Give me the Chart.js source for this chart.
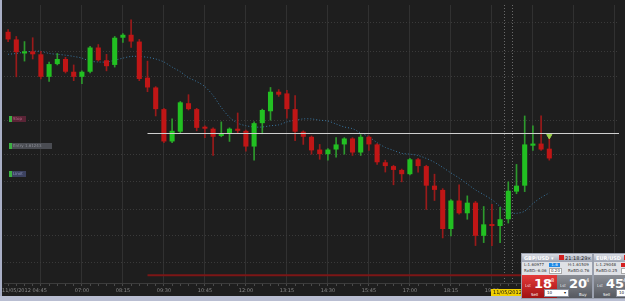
<!DOCTYPE html>
<html>
<head>
<meta charset="utf-8">
<title>GBP/USD 15m</title>
<script src="https://cdn.jsdelivr.net/npm/chart.js@4.4.1/dist/chart.umd.min.js"></script>
<style>
  html, body { margin: 0; padding: 0; width: 625px; height: 301px; overflow: hidden; background: #1e1e1e; font-family: "DejaVu Sans", sans-serif; }
  #wrap { position: absolute; left: -1px; top: 0; width: 625px; height: 296px; }
  #frameLeft { position: absolute; left: 0; top: 0; width: 2px; height: 301px; background: #a9afc6; }
  #frameBottom { position: absolute; left: 0; top: 296px; width: 625px; height: 5px; background: #b9bed2; }

  /* order tags on the left */
  .tag { position: absolute; left: 9px; height: 6px; display: flex; font-size: 4px; line-height: 6px; }
  .tag i { width: 3px; height: 6px; background: #3cb043; }
  .tag span { padding: 0 1px; overflow: hidden; white-space: nowrap; }

  /* crosshair time label */
  #timeTag { position: absolute; left: 491px; top: 289px; width: 42px; height: 7px; background: #f0cf00; color: #111; font-size: 5px; line-height: 7px; padding-left: 2px; white-space: nowrap; overflow: hidden; }

  /* dealing tickets */
  .ticket { position: absolute; top: 253px; height: 44px; background: #dfe1e6; border: 1px solid #9aa0ae; overflow: hidden; font-size: 4px; color: #333; }
  .ticket .title { height: 8px; background: linear-gradient(#d9dce4, #9ea4b3); color: #fff; font-weight: bold; font-size: 5px; line-height: 8px; padding-left: 2px; position: relative; white-space: nowrap; }
  .ticket .title b { position: absolute; top: 1px; width: 5px; height: 5px; background: #d42020; }
  .ticket .title em { position: absolute; font-style: normal; font-weight: normal; color: #222; }
  .ticket .row { height: 6px; line-height: 6px; position: relative; white-space: nowrap; }
  .ticket .row span { position: absolute; }
  .ticket .box { top: 1px; height: 4px; line-height: 4px; text-align: center; }
  .ticket .btn { position: absolute; top: 21px; height: 23px; color: #fff; }
  .ticket .btn .lst { position: absolute; left: 3px; top: 8px; font-size: 4px; opacity: .85; }
  .ticket .btn .big { position: absolute; left: 12px; top: 2px; font-size: 13px; font-weight: bold; line-height: 14px; }
  .ticket .btn .sup { position: absolute; left: 29px; top: 2px; font-size: 5px; }
  .ticket .btn .act { position: absolute; bottom: 1px; font-size: 4px; }
  .ticket .qty { position: absolute; top: 35px; height: 6px; background: #fff; border: 1px solid #8a8f9c; color: #111; font-size: 4px; line-height: 6px; padding-left: 2px; }
</style>
</head>
<body>
<div id="wrap"><canvas id="priceChart" width="625" height="296"></canvas></div>
<div id="frameLeft"></div>
<div id="frameBottom"></div>

<div class="tag" style="top:116px"><i></i><span style="background:#5a2436;color:#b86a8a;width:12px">Stop</span></div>
<div class="tag" style="top:143px"><i></i><span style="background:#4a4c52;color:#8c8f96;width:38px">Entry 1.61243</span></div>
<div class="tag" style="top:171px"><i></i><span style="background:#3c4260;color:#8e96bc;width:12px">Limit</span></div>

<div id="timeTag">11/05/2012 20:45</div>

<div class="ticket" style="left:521px;width:70px">
  <div class="title">GBP/USD &#9662;<b style="left:37px"></b><em style="left:43px">21:18:29</em><em style="left:65px">&#215;</em></div>
  <div class="row"><span style="left:2px">L:1.60977</span><span class="box" style="left:27px;width:11px;background:#1e88e5;color:#fff">1.6</span><span style="left:46px">H:1.61509</span></div>
  <div class="row"><span style="left:2px">RxBD:-6.06</span><span class="box" style="left:27px;width:11px;background:#fff;border:1px solid #aaa;top:0">0.20</span><span style="left:46px">RxBD:0.76</span></div>
  <div class="btn" style="left:0;width:35px;background:linear-gradient(#e43a3a,#a01212)"><span class="lst">Lst</span><span class="big">18</span><span class="sup">8</span><span class="act" style="left:9px">Sell</span></div>
  <div class="btn" style="left:35px;width:35px;background:linear-gradient(#8c8f96,#55585f)"><span class="lst">Lst</span><span class="big">20</span><span class="sup">4</span><span class="act" style="left:22px">Buy</span></div>
  <div class="qty" style="left:22px;width:21px">10<span style="position:absolute;right:2px">&#9662;</span></div>
</div>

<div class="ticket" style="left:593px;width:40px">
  <div class="title">EUR/USD<b style="left:30px"></b></div>
  <div class="row"><span style="left:2px">L:1.29048</span><span class="box" style="left:27px;width:11px;background:#d42020;color:#fff">&nbsp;</span></div>
  <div class="row"><span style="left:2px">RxBD:0.25</span><span class="box" style="left:27px;width:11px;background:#fff;border:1px solid #aaa;top:0">&nbsp;</span></div>
  <div class="btn" style="left:0;width:40px;background:linear-gradient(#8c8f96,#55585f)"><span class="lst">Lst</span><span class="big">45</span><span class="sup">4</span><span class="act" style="left:9px">Sell</span></div>
  <div class="qty" style="left:22px;width:18px">10</div>
</div>

<script>
/* =========================================
   DATA (GBP/USD, 15 minute candles)
   ========================================= */
const slotCount = 75;   // candles + empty space on the right

const opens = [
  1.61481, 1.61463, 1.61430, 1.61435, 1.61428, 1.61375, 1.61405, 1.61417, 1.61387, 1.61375,
  1.61387, 1.61444, 1.61414, 1.61403, 1.61467, 1.61474, 1.61458, 1.61373, 1.61350, 1.61299,
  1.61223, 1.61246, 1.61313, 1.61299, 1.61257, 1.61253, 1.61236, 1.61241, 1.61253, 1.61248,
  1.61211, 1.61266, 1.61294, 1.61340, 1.61336, 1.61299, 1.61246, 1.61234, 1.61204, 1.61193,
  1.61204, 1.61216, 1.61230, 1.61197, 1.61234, 1.61216, 1.61174, 1.61165, 1.61156, 1.61146,
  1.61181, 1.61165, 1.61119, 1.61109, 1.61017, 1.61084, 1.61054, 1.61079, 1.61001, 1.61028,
  1.61024, 1.61040, 1.61105, 1.61119, 1.61213, 1.61218, 1.61206
];
const highs = [
  1.61486, 1.61470, 1.61458, 1.61467, 1.61435, 1.61410, 1.61430, 1.61421, 1.61403, 1.61389,
  1.61447, 1.61451, 1.61428, 1.61470, 1.61477, 1.61509, 1.61463, 1.61412, 1.61352, 1.61301,
  1.61276, 1.61317, 1.61333, 1.61301, 1.61260, 1.61255, 1.61269, 1.61255, 1.61290, 1.61250,
  1.61269, 1.61299, 1.61350, 1.61345, 1.61343, 1.61331, 1.61248, 1.61236, 1.61216, 1.61206,
  1.61232, 1.61232, 1.61232, 1.61239, 1.61236, 1.61218, 1.61179, 1.61167, 1.61158, 1.61183,
  1.61183, 1.61167, 1.61146, 1.61112, 1.61086, 1.61121, 1.61095, 1.61082, 1.61070, 1.61075,
  1.61068, 1.61128, 1.61169, 1.61283, 1.61260, 1.61283, 1.61232
];
const lows = [
  1.61458, 1.61375, 1.61412, 1.61417, 1.61370, 1.61364, 1.61403, 1.61384, 1.61366, 1.61359,
  1.61384, 1.61412, 1.61389, 1.61398, 1.61456, 1.61444, 1.61366, 1.61340, 1.61283, 1.61220,
  1.61220, 1.61243, 1.61297, 1.61248, 1.61232, 1.61190, 1.61234, 1.61223, 1.61243, 1.61200,
  1.61179, 1.61241, 1.61273, 1.61329, 1.61278, 1.61225, 1.61216, 1.61193, 1.61181, 1.61179,
  1.61186, 1.61193, 1.61190, 1.61190, 1.61202, 1.61169, 1.61151, 1.61121, 1.61128, 1.61144,
  1.61151, 1.61063, 1.61084, 1.60996, 1.61001, 1.61052, 1.61040, 1.60978, 1.60985, 1.60978,
  1.60985, 1.61031, 1.61100, 1.61105, 1.61202, 1.61202, 1.61179
];
const closes = [
  1.61463, 1.61433, 1.61435, 1.61428, 1.61375, 1.61405, 1.61417, 1.61387, 1.61375, 1.61387,
  1.61444, 1.61414, 1.61400, 1.61467, 1.61474, 1.61458, 1.61370, 1.61350, 1.61299, 1.61223,
  1.61248, 1.61315, 1.61299, 1.61255, 1.61253, 1.61234, 1.61241, 1.61253, 1.61248, 1.61211,
  1.61266, 1.61297, 1.61340, 1.61333, 1.61299, 1.61246, 1.61234, 1.61202, 1.61193, 1.61204,
  1.61216, 1.61230, 1.61197, 1.61234, 1.61216, 1.61174, 1.61165, 1.61156, 1.61146, 1.61181,
  1.61165, 1.61119, 1.61109, 1.61017, 1.61084, 1.61054, 1.61079, 1.61001, 1.61028, 1.61024,
  1.61040, 1.61107, 1.61119, 1.61216, 1.61218, 1.61204, 1.61183
];
// moving average
const maValues = [
  1.61428, 1.61430, 1.61433, 1.61435, 1.61435, 1.61430, 1.61428, 1.61426, 1.61423, 1.61419,
  1.61412, 1.61410, 1.61410, 1.61414, 1.61419, 1.61423, 1.61423, 1.61421, 1.61417, 1.61410,
  1.61398, 1.61387, 1.61373, 1.61364, 1.61352, 1.61331, 1.61303, 1.61280, 1.61266, 1.61260,
  1.61257, 1.61257, 1.61260, 1.61262, 1.61269, 1.61273, 1.61276, 1.61276, 1.61273, 1.61271,
  1.61264, 1.61257, 1.61253, 1.61243, 1.61234, 1.61220, 1.61209, 1.61202, 1.61195, 1.61193,
  1.61190, 1.61183, 1.61174, 1.61162, 1.61149, 1.61137, 1.61123, 1.61109, 1.61098, 1.61086,
  1.61070, 1.61056, 1.61054, 1.61059, 1.61077, 1.61091, 1.61102
];

// time axis labels (index of the candle, text)
const tickIndex = [2, 9, 14, 19, 24, 29, 34, 39, 44, 49, 54, 59, 64, 69];
const tickText = ['11/05/2012 04:45', '07:00', '08:15', '09:30', '10:45', '12:00', '13:15',
                  '14:30', '15:45', '17:00', '18:15', '19:30', '20:45', '22:00'];

// price levels for the dotted horizontal grid
const gridLevels = [1.61502, 1.61435, 1.61375, 1.61273, 1.61193, 1.61128, 1.61063, 1.61001, 1.60938];

const priceMin = 1.60890;
const priceMax = 1.61544;

// order lines drawn from candle 17 onwards
const levelStart = 17;
const entryPrice = 1.61243;
const stopPrice = 1.60908;
const arrowIndex = 66;
const arrowPrice = 1.61236;
const crossIndex = [60.5, 61.5];


/* =========================================
   COLOURS
   ========================================= */
const upBody = '#22c022';
const downBody = '#c01616';
const upWick = '#2d9a2d';
const downWick = '#9a1a1a';

const isUp = opens.map((o, i) => closes[i] >= o);


/* =========================================
   ORDER LINES PLUGIN
   ========================================= */
const orderLines = {
  id: 'orderLines',
  beforeDatasetsDraw(chart) {
    const { ctx, chartArea, scales: { x } } = chart;
    ctx.save();
    ctx.strokeStyle = '#6a6a6a';
    ctx.lineWidth = 1;
    ctx.setLineDash([1, 2]);
    crossIndex.forEach(v => {
      const px = Math.round(x.getPixelForValue(v)) + 0.5;
      ctx.beginPath();
      ctx.moveTo(px, chartArea.top);
      ctx.lineTo(px, chartArea.bottom);
      ctx.stroke();
    });
    ctx.restore();
  },
  afterDatasetsDraw(chart) {
    const { ctx, chartArea, scales: { x, y } } = chart;
    const x0 = x.getPixelForValue(levelStart);
    ctx.save();
    // stop line
    let py = y.getPixelForValue(stopPrice);
    ctx.strokeStyle = '#7c1616';
    ctx.lineWidth = 2;
    ctx.beginPath();
    ctx.moveTo(x0, py);
    ctx.lineTo(chartArea.right, py);
    ctx.stroke();
    // entry line
    py = Math.round(y.getPixelForValue(entryPrice)) + 0.5;
    ctx.strokeStyle = '#cfcfcf';
    ctx.lineWidth = 1;
    ctx.beginPath();
    ctx.moveTo(x0, py);
    ctx.lineTo(chartArea.right, py);
    ctx.stroke();
    ctx.restore();
  }
};


/* =========================================
   CHART
   ========================================= */
function initChart() {
  const ctx = document.getElementById('priceChart').getContext('2d');
  const labels = Array.from({ length: slotCount }, (_, i) => String(i));

  new Chart(ctx, {
    type: 'bar',
    data: {
      labels: labels,
      datasets: [
        {
          label: 'Body',
          data: opens.map((o, i) => [o, closes[i]]),
          backgroundColor: isUp.map(u => u ? upBody : downBody),
          grouped: false,
          barPercentage: 1,
          categoryPercentage: 0.62,
          minBarLength: 2,
          order: 0
        },
        {
          label: 'Wick',
          data: lows.map((l, i) => [l, highs[i]]),
          backgroundColor: isUp.map(u => u ? upWick : downWick),
          grouped: false,
          barThickness: 1,
          order: 1
        },
        {
          type: 'line',
          label: 'MA',
          data: maValues,
          borderColor: '#3a78a4',
          borderWidth: 1,
          borderDash: [1, 2],
          pointRadius: 0,
          tension: 0.3,
          order: 2
        },
        {
          type: 'line',
          label: 'Signal',
          data: labels.map((_, i) => i === arrowIndex ? arrowPrice : null),
          showLine: false,
          pointStyle: 'triangle',
          rotation: 180,
          pointRadius: 3,
          pointBackgroundColor: '#9ad04a',
          pointBorderColor: '#9ad04a',
          order: -1
        }
      ]
    },
    options: {
      responsive: false,
      animation: false,
      events: [],
      layout: { padding: 0 },
      plugins: { legend: { display: false }, tooltip: { enabled: false } },
      scales: {
        x: {
          offset: true,
          grid: {
            offset: false,
            color: c => (c.index % 5 === 4) ? '#313131' : 'rgba(0,0,0,0)',
            tickColor: '#4a4a4a',
            tickLength: 3
          },
          border: { display: true, color: '#3c3c3c' },
          ticks: {
            autoSkip: false,
            maxRotation: 0,
            padding: 2,
            color: '#8a8a8a',
            font: { size: 5, family: 'DejaVu Sans' },
            callback: (v, i) => {
              const k = tickIndex.indexOf(i);
              return k >= 0 ? tickText[k] : '';
            }
          },
          afterFit: s => { s.height = 13; s.paddingLeft = 0; s.paddingRight = 0; }
        },
        y: {
          position: 'right',
          min: priceMin,
          max: priceMax,
          ticks: { display: false },
          grid: { color: '#3a3a3a', drawTicks: false },
          border: { display: false, dash: [1, 2] },
          afterBuildTicks: s => { s.ticks = gridLevels.map(v => ({ value: v })); },
          afterFit: s => { s.width = 0; }
        }
      }
    },
    plugins: [orderLines]
  });
}

window.onload = initChart;
</script>
</body>
</html>
